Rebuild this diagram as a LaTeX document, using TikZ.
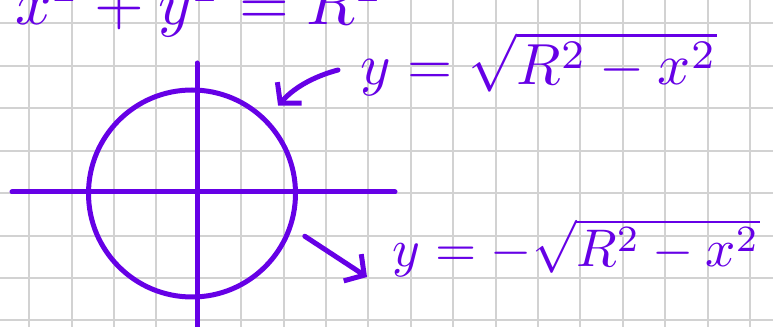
\documentclass[tikz,border=0pt]{standalone}
\usetikzlibrary{arrows.meta}
\definecolor{inkpurple}{RGB}{102,0,230}
\definecolor{gridgray}{RGB}{210,210,210}
\tikzset{
  ink/.style={
    draw=inkpurple,
    line width=2.5pt,
    line cap=round,
    line join=round
  },
  gridline/.style={draw=gridgray, line width=1pt},
  formula/.style={
    text=inkpurple,
    inner sep=0pt,
    anchor=base west
  },
  barb/.style={->, >={Straight Barb[length=7pt,width=16pt]}}
}
\newcommand{\graphpaper}{%
  \useasboundingbox (0,0) rectangle (773,327);
  \clip (0,0) rectangle (773,327);
  \fill[white] (0,0) rectangle (773,327);
  \foreach \k in {0,...,17} {
    \draw[gridline] ({29.2+42.4*\k},0) -- ++(0,327);
  }
  \foreach \k in {0,...,7} {
    \draw[gridline] (0,{303.7-42.45*\k}) -- ++(773,0);
  }
}
\newcommand{\bigmath}[2]{\scalebox{#1}{$#2$}}

\begin{document}
\begin{tikzpicture}[x=0.5pt,y=0.5pt]
  \graphpaper
  \node[formula] (circleeq) at (15,302) {\bigmath{3.2}{x^2+y^2=R^2}};
  \node[formula] (upper) at (360,242) {\bigmath{2.9}{y=\sqrt{R^2-x^2}}};
  \node[formula] (lower) at (392,60) {\bigmath{2.65}{y=-\sqrt{R^2-x^2}}};
  \node[circle, ink, minimum size=103.5pt, inner sep=0pt] (ring) at (192,133.5) {};
  \draw[ink] (12,135) -- (395,135);
  \draw[ink] (197,264) -- (197,-5);
  \coordinate (uptail) at (338,257);
  \coordinate (lowtip) at (367,50);
  \draw[ink, barb, shorten >=8.5pt] (uptail) to[out=195,in=49] (ring.45);
  \draw[ink, barb, shorten <=7.5pt] (ring.-19) -- (lowtip);
\end{tikzpicture}
\end{document}
